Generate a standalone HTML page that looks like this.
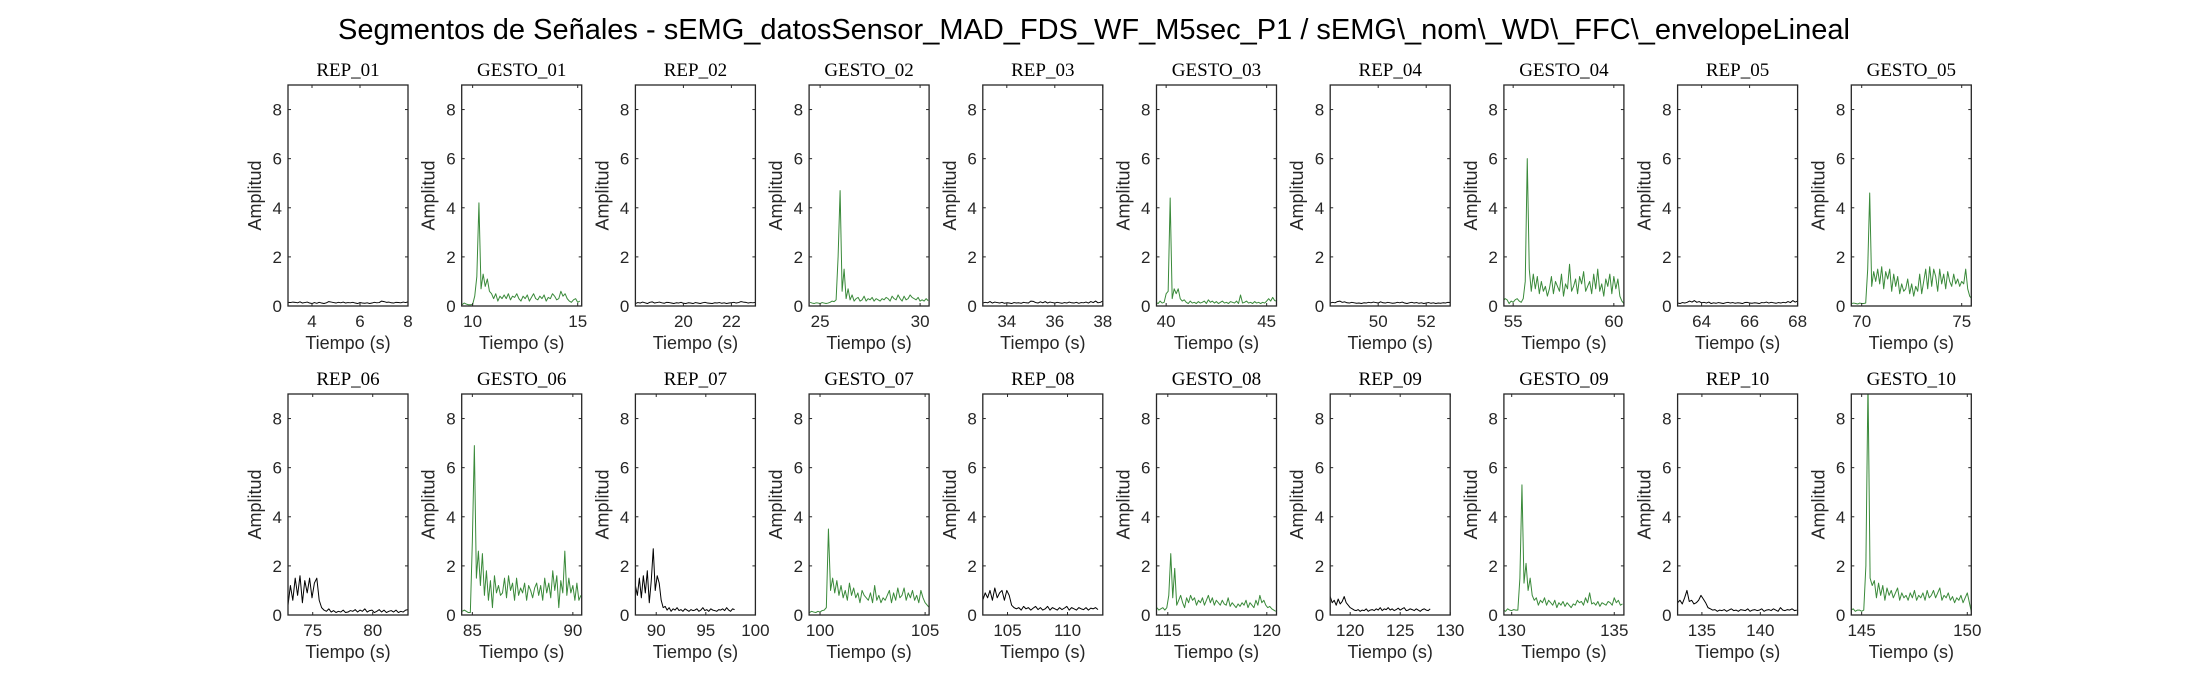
<!DOCTYPE html>
<html><head><meta charset="utf-8"><title>Segmentos de Señales</title>
<style>
html,body{margin:0;padding:0;background:#fff;}
svg{display:block;}
text{font-family:"Liberation Sans",sans-serif;fill:#262626;}
.ttl{font-family:"Liberation Serif",serif;font-size:19px;fill:#000;}
.tick{font-size:17px;}
.lab{font-size:18px;}
</style></head>
<body>
<svg id="fig" width="2187" height="688" viewBox="0 0 2187 688" xmlns="http://www.w3.org/2000/svg">
<rect width="2187" height="688" fill="#fff"/>
<text x="1094" y="39" text-anchor="middle" style="font-size:29px;fill:#000">Segmentos de Señales - sEMG_datosSensor_MAD_FDS_WF_M5sec_P1 / sEMG\_nom\_WD\_FFC\_envelopeLineal</text>
</svg>
<script>
// ---- data ----
const panelTitles = ["REP_01","GESTO_01","REP_02","GESTO_02","REP_03","GESTO_03","REP_04","GESTO_04","REP_05","GESTO_05",
  "REP_06","GESTO_06","REP_07","GESTO_07","REP_08","GESTO_08","REP_09","GESTO_09","REP_10","GESTO_10"];
const xMins = [3,9.48,18,24.45,33,39.52,48,54.54,63,69.48, 72.94,84.47,87.9,99.48,102.94,114.43,118,129.62,132.92,144.51];
const xMaxs = [8,15.19,23,30.45,38,45.49,53,60.5,68,75.48, 82.94,90.44,100,105.19,112.94,120.49,130,135.47,143.19,150.19];
const xTicks = [[4,6,8],[10,15],[20,22],[25,30],[34,36,38],[40,45],[50,52],[55,60],[64,66,68],[70,75],
  [75,80],[85,90],[90,95,100],[100,105],[105,110],[115,120],[120,125,130],[130,135],[135,140],[145,150]];
const yTicks = [0,2,4,6,8];
const startTimes = [3,9.5,18,24.5,33,39.5,48,54.5,63,69.5, 72.94,84.5,87.9,99.5,102.94,114.45,118,129.6,132.92,144.5];
const sampleSteps = [0.1,0.1,0.1,0.1,0.1,0.1,0.1,0.1,0.1,0.1, 0.2,0.1,0.2,0.1,0.2,0.1,0.2,0.1,0.2,0.1];

const rep01 = [0.15,0.14,0.16,0.15,0.13,0.17,0.12,0.14,0.16,0.12,0.1,0.14,0.11,0.15,0.12,0.1,0.13,0.18,0.16,0.14,0.12,0.15,0.13,0.16,0.12,0.14,0.13,0.15,0.12,0.1,0.14,0.12,0.11,0.13,0.1,0.12,0.15,0.13,0.14,0.2,0.18,0.15,0.16,0.13,0.12,0.15,0.14,0.13,0.16,0.14,0.17];
const gesto01 = [0.05,0.12,0.08,0.05,0.05,0.06,0.4,1.2,4.2,0.7,1.3,0.8,1.1,0.6,0.5,0.3,0.5,0.2,0.4,0.3,0.45,0.3,0.5,0.25,0.4,0.35,0.5,0.3,0.2,0.4,0.3,0.45,0.2,0.35,0.5,0.3,0.25,0.4,0.3,0.45,0.2,0.35,0.3,0.5,0.4,0.25,0.3,0.6,0.4,0.5,0.3,0.2,0.15,0.25,0.3,0.15,0.2];
const rep02 = [0.1,0.14,0.12,0.16,0.13,0.1,0.15,0.17,0.12,0.14,0.16,0.13,0.11,0.15,0.14,0.12,0.1,0.13,0.12,0.15,0.11,0.1,0.13,0.12,0.1,0.14,0.12,0.1,0.13,0.15,0.12,0.11,0.1,0.13,0.12,0.14,0.11,0.13,0.1,0.12,0.13,0.15,0.12,0.14,0.18,0.16,0.15,0.12,0.14,0.13,0.15];
const gesto02 = [0.15,0.12,0.1,0.13,0.12,0.1,0.14,0.12,0.1,0.12,0.15,0.2,0.18,0.25,2.0,4.7,0.6,1.5,0.3,0.7,0.25,0.45,0.2,0.3,0.35,0.2,0.25,0.4,0.2,0.3,0.25,0.35,0.2,0.3,0.25,0.2,0.3,0.25,0.35,0.3,0.2,0.4,0.3,0.25,0.45,0.3,0.2,0.4,0.25,0.3,0.45,0.35,0.3,0.25,0.35,0.2,0.25,0.2,0.3,0.22];
const rep03 = [0.12,0.15,0.13,0.18,0.12,0.16,0.14,0.12,0.15,0.11,0.13,0.12,0.1,0.14,0.12,0.13,0.11,0.15,0.13,0.12,0.2,0.19,0.14,0.12,0.17,0.13,0.18,0.12,0.16,0.14,0.12,0.15,0.13,0.11,0.14,0.12,0.16,0.13,0.12,0.15,0.11,0.14,0.13,0.16,0.12,0.18,0.14,0.2,0.13,0.15,0.2];
const gesto03 = [0.15,0.1,0.2,0.12,0.15,0.5,0.6,4.4,0.3,0.7,0.5,0.7,0.3,0.2,0.25,0.15,0.1,0.2,0.12,0.15,0.1,0.18,0.12,0.15,0.2,0.1,0.25,0.15,0.2,0.12,0.18,0.1,0.15,0.2,0.12,0.15,0.1,0.18,0.15,0.12,0.2,0.1,0.45,0.12,0.15,0.2,0.12,0.15,0.1,0.18,0.12,0.15,0.1,0.15,0.12,0.2,0.3,0.2,0.35,0.22,0.2];
const rep04 = [0.12,0.15,0.13,0.18,0.2,0.15,0.17,0.13,0.12,0.15,0.13,0.11,0.12,0.1,0.13,0.12,0.15,0.13,0.16,0.14,0.12,0.17,0.13,0.12,0.15,0.13,0.11,0.12,0.15,0.13,0.16,0.12,0.1,0.13,0.15,0.12,0.14,0.11,0.13,0.1,0.12,0.14,0.11,0.13,0.1,0.12,0.11,0.13,0.12,0.15,0.14];
const gesto04 = [0.2,0.3,0.25,0.1,0.2,0.15,0.25,0.3,0.2,0.15,0.3,1.0,6.0,1.5,0.6,1.3,0.7,1.2,0.5,1.0,0.6,0.8,0.4,0.7,1.2,0.5,1.0,0.8,0.6,1.3,0.4,0.9,0.7,1.7,0.6,0.8,1.1,0.5,1.2,0.9,1.4,0.6,0.8,1.0,0.5,1.3,0.7,1.5,0.6,0.9,0.4,1.1,0.8,1.3,0.5,1.2,0.7,1.1,0.4,0.2,0.1];
const rep05 = [0.12,0.1,0.14,0.12,0.15,0.2,0.16,0.22,0.15,0.18,0.13,0.15,0.12,0.16,0.1,0.13,0.11,0.14,0.12,0.1,0.13,0.15,0.12,0.14,0.11,0.13,0.12,0.1,0.14,0.15,0.12,0.11,0.13,0.12,0.1,0.14,0.13,0.16,0.12,0.15,0.13,0.11,0.14,0.12,0.15,0.13,0.18,0.14,0.22,0.16,0.2];
const gesto05 = [0.1,0.12,0.1,0.08,0.12,0.1,0.1,0.12,1.5,4.6,0.8,1.4,1.0,1.5,0.9,1.6,0.7,1.4,1.1,1.5,0.6,1.3,0.8,1.2,0.5,0.9,0.6,0.7,1.1,0.5,0.9,0.4,0.8,0.6,1.3,0.5,1.0,1.5,0.7,1.6,0.8,1.5,1.2,0.6,1.5,0.9,1.3,0.7,1.4,1.0,0.8,1.3,0.9,1.1,0.8,1.0,0.9,1.5,0.7,0.4,0.3];
const rep06 = [0.4,1.2,0.6,1.5,0.8,1.6,0.5,1.4,0.9,1.5,0.7,1.3,1.5,0.6,0.3,0.2,0.15,0.25,0.12,0.18,0.1,0.15,0.12,0.2,0.1,0.12,0.18,0.15,0.22,0.12,0.2,0.15,0.25,0.12,0.18,0.2,0.1,0.15,0.22,0.12,0.2,0.1,0.15,0.18,0.12,0.2,0.1,0.15,0.12,0.2,0.22];
const gesto06 = [0.15,0.2,0.15,0.1,0.1,3.0,6.9,1.5,2.6,1.2,2.5,0.8,1.8,0.6,1.4,0.3,1.6,0.9,1.2,0.8,0.9,1.5,0.7,1.6,1.0,1.3,0.6,1.5,0.8,1.1,0.9,1.3,0.6,1.2,1.0,0.7,1.1,1.3,0.8,1.2,0.6,1.5,0.9,1.3,0.7,1.8,1.0,1.6,0.3,1.4,0.9,2.6,0.8,1.5,0.9,1.2,0.6,1.3,0.6,0.8];
const rep07 = [1.2,0.8,1.5,0.7,1.6,0.9,1.8,0.5,1.4,2.7,1.0,1.6,1.3,0.6,0.3,0.35,0.2,0.3,0.15,0.25,0.2,0.3,0.18,0.22,0.15,0.25,0.2,0.15,0.22,0.18,0.2,0.25,0.15,0.2,0.3,0.18,0.22,0.15,0.25,0.2,0.18,0.15,0.22,0.2,0.25,0.18,0.3,0.2,0.15,0.25,0.22];
const gesto07 = [0.1,0.15,0.12,0.1,0.15,0.12,0.18,0.2,0.3,3.5,1.0,1.5,0.9,1.4,0.8,1.2,0.7,1.0,0.6,1.3,0.8,1.1,0.7,0.9,0.5,1.0,0.8,0.7,0.6,0.9,0.5,1.2,0.6,0.8,0.5,0.7,0.6,0.8,1.0,0.5,0.9,0.6,1.1,0.7,0.8,1.1,0.6,0.9,0.7,1.0,0.6,0.8,0.5,1.0,0.7,0.5,0.4,0.3];
const rep08 = [0.6,0.9,0.7,1.0,0.6,1.1,0.7,0.9,1.0,0.6,1.0,0.8,0.4,0.3,0.25,0.3,0.2,0.35,0.25,0.3,0.2,0.28,0.35,0.22,0.3,0.2,0.25,0.35,0.2,0.3,0.25,0.2,0.3,0.22,0.28,0.35,0.2,0.3,0.25,0.2,0.3,0.25,0.22,0.3,0.2,0.28,0.25,0.3,0.22];
const gesto08 = [0.3,0.2,0.25,0.3,0.2,0.3,0.8,2.5,0.7,1.9,0.4,0.6,0.8,0.5,0.3,0.7,0.5,0.8,0.6,0.7,0.4,0.6,0.5,0.7,0.4,0.6,0.8,0.5,0.7,0.4,0.6,0.5,0.4,0.6,0.45,0.4,0.7,0.35,0.5,0.4,0.3,0.45,0.35,0.5,0.4,0.6,0.3,0.5,0.4,0.3,0.6,0.4,0.8,0.5,0.6,0.4,0.3,0.35,0.25,0.2,0.15];
const rep09 = [0.75,0.5,0.6,0.4,0.65,0.45,0.55,0.75,0.5,0.4,0.3,0.25,0.2,0.18,0.22,0.15,0.2,0.18,0.25,0.15,0.2,0.22,0.18,0.25,0.2,0.3,0.18,0.25,0.22,0.3,0.2,0.25,0.18,0.22,0.28,0.2,0.25,0.3,0.18,0.2,0.25,0.22,0.18,0.25,0.2,0.15,0.22,0.25,0.2,0.18,0.25];
const gesto09 = [0.2,0.15,0.25,0.2,0.18,0.22,0.2,0.2,1.5,5.3,1.3,2.1,1.0,1.5,0.8,0.6,0.7,0.4,0.6,0.5,0.7,0.4,0.6,0.5,0.4,0.6,0.3,0.5,0.4,0.55,0.35,0.5,0.4,0.3,0.45,0.4,0.6,0.5,0.55,0.4,0.7,0.5,0.9,0.45,0.5,0.4,0.55,0.35,0.5,0.45,0.4,0.55,0.5,0.4,0.7,0.5,0.6,0.4,0.45];
const rep10 = [0.5,0.6,0.45,0.7,1.0,0.55,0.6,0.45,0.5,0.6,0.8,0.65,0.5,0.3,0.25,0.2,0.22,0.15,0.2,0.18,0.22,0.15,0.2,0.25,0.18,0.2,0.15,0.22,0.2,0.18,0.25,0.15,0.2,0.22,0.18,0.2,0.25,0.15,0.2,0.22,0.18,0.25,0.2,0.15,0.3,0.2,0.18,0.22,0.2,0.25,0.18,0.2];
const gesto10 = [0.2,0.25,0.15,0.2,0.2,0.15,0.2,2.0,9.5,1.5,1.2,1.4,0.7,1.3,0.8,1.2,0.6,1.1,0.8,1.0,0.7,0.9,1.1,0.6,0.9,0.7,0.8,0.6,0.9,0.7,1.0,0.6,0.8,0.7,0.9,0.6,1.0,0.7,0.8,1.0,0.7,0.9,1.1,0.6,0.8,0.7,0.9,0.6,0.75,0.5,0.7,0.6,0.8,0.5,0.7,0.9,0.5,0.1];

const seriesValues = [rep01,gesto01,rep02,gesto02,rep03,gesto03,rep04,gesto04,rep05,gesto05,
  rep06,gesto06,rep07,gesto07,rep08,gesto08,rep09,gesto09,rep10,gesto10];

// ---- drawing ----
const NS = "http://www.w3.org/2000/svg";
const svg = document.getElementById('fig');
const AX_W = 120, AX_H = 221, X0 = 288, DX = 173.7, ROW_TOPS = [85, 394], YMAX = 9;
function mk(tag, attrs, parent){
  const e = document.createElementNS(NS, tag);
  for (const k in attrs) e.setAttribute(k, attrs[k]);
  (parent || svg).appendChild(e);
  return e;
}
const defs = mk('defs', {});
panelTitles.forEach((title, i) => {
  const row = Math.floor(i / 10), col = i % 10;
  const L = X0 + col * DX, T = ROW_TOPS[row], B = T + AX_H, R = L + AX_W;
  const xs = v => L + (v - xMins[i]) / (xMaxs[i] - xMins[i]) * AX_W;
  const ys = v => B - v / YMAX * AX_H;
  const isGesto = title.startsWith('GESTO');
  const g = mk('g', {});
  
  
  const cp = mk('clipPath', {id: 'clip' + i}, defs);
  mk('rect', {x: L, y: T, width: AX_W, height: AX_H}, cp);
  const vals = seriesValues[i];
  const pts = vals.map((v, k) => xs(startTimes[i] + k * sampleSteps[i]).toFixed(2) + ',' + ys(v).toFixed(2)).join(' ');
  const line = mk('polyline', {points: pts, fill: 'none', stroke: isGesto ? '#3a8a3a' : '#000', 'stroke-width': 1, 'clip-path': 'url(#clip' + i + ')', 'stroke-linejoin': 'round'}, g);
  
  
  const box = mk('rect', {x: L, y: T, width: AX_W, height: AX_H, fill: 'none', stroke: '#262626', 'stroke-width': 1.3}, g);
  
  
  yTicks.forEach(v => {
    const y = ys(v);
    mk('line', {x1: L, x2: L + 3, y1: y, y2: y, stroke: '#262626', 'stroke-width': 1}, g);
    mk('line', {x1: R - 3, x2: R, y1: y, y2: y, stroke: '#262626', 'stroke-width': 1}, g);
    const t = mk('text', {x: L - 6, y: y + 6, 'text-anchor': 'end', class: 'tick'}, g);
    t.textContent = v;
    
    
  });
  xTicks[i].forEach(v => {
    const x = xs(v);
    mk('line', {x1: x, x2: x, y1: B, y2: B - 3, stroke: '#262626', 'stroke-width': 1}, g);
    mk('line', {x1: x, x2: x, y1: T, y2: T + 3, stroke: '#262626', 'stroke-width': 1}, g);
    const t = mk('text', {x: x, y: B + 21, 'text-anchor': 'middle', class: 'tick'}, g);
    t.textContent = v;
    
    
  });
  const tt = mk('text', {x: L + AX_W / 2, y: T - 9, 'text-anchor': 'middle', class: 'ttl'}, g);
  tt.textContent = title;
  
  
  const xl = mk('text', {x: L + AX_W / 2, y: B + 43, 'text-anchor': 'middle', class: 'lab'}, g);
  xl.textContent = 'Tiempo (s)';
  
  
  const cx = L - 27, cy = T + AX_H / 2;
  const yl = mk('text', {x: cx, y: cy, 'text-anchor': 'middle', class: 'lab', transform: 'rotate(-90 ' + cx + ' ' + cy + ')'}, g);
  yl.textContent = 'Amplitud';
  
  
});
</script>
</body></html>
